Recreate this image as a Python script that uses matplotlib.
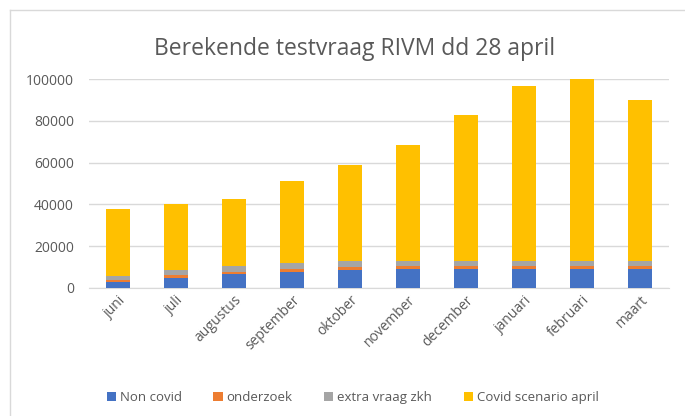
import numpy as np
import matplotlib
matplotlib.use('Agg')
import matplotlib.pyplot as plt
from matplotlib.lines import Line2D

plt.rcParams['font.family'] = ['Open Sans', 'DejaVu Sans']

months = ['juni', 'juli', 'augustus', 'september', 'oktober', 'november',
          'december', 'januari', 'februari', 'maart']
non_covid = [3000, 4800, 6700, 7800, 8500, 9100, 9100, 9100, 9100, 9100]
onderzoek = [800, 1200, 1000, 1300, 1400, 1600, 1600, 1600, 1600, 1600]
extra_zkh = [2000, 2400, 3000, 2900, 2900, 2400, 2400, 2400, 2400, 2400]
totals = [38000, 40000, 42500, 51000, 59000, 68500, 83000, 96500, 100000, 90000]
covid_april = [t - a - b - c for t, a, b, c in zip(totals, non_covid, onderzoek, extra_zkh)]

series = [('Non covid', non_covid, '#4472C4'),
          ('onderzoek', onderzoek, '#ED7D31'),
          ('extra vraag zkh', extra_zkh, '#A5A5A5'),
          ('Covid scenario april', covid_april, '#FFC000')]

fig = plt.figure(figsize=(6.85, 4.16), dpi=100)
ax = fig.add_axes([0.130, 0.308, 0.847, 0.502])

x = np.arange(len(months))
bottom = np.zeros(len(months))
for name, vals, col in series:
    ax.bar(x, vals, 0.41, bottom=bottom, color=col, label=name, zorder=3)
    bottom += np.array(vals)

ax.set_xlim(-0.5, len(months) - 0.5)
ax.set_ylim(0, 100000)
ax.set_yticks(range(0, 100001, 20000))
ax.yaxis.grid(True, color='#D9D9D9', linewidth=1, zorder=0)
for s in ['top', 'right', 'left']:
    ax.spines[s].set_visible(False)
ax.spines['bottom'].set_color('#D9D9D9')
ax.tick_params(axis='both', length=0, colors='#595959', labelsize=10)
ax.tick_params(axis='y', pad=11)
ax.set_xticks(x)
ax.set_xticklabels(months, rotation=45, ha='right', rotation_mode='anchor')

fig.text(0.517, 0.883, 'Berekende testvraag RIVM dd 28 april',
         ha='center', va='center', fontsize=16.5, color='#595959')

handles, labels = ax.get_legend_handles_labels()
fig.legend(handles, labels, loc='center', bbox_to_anchor=(0.515, 0.045), ncol=4,
           frameon=False, fontsize=9.5, handlelength=0.7, handleheight=0.7,
           handletextpad=0.3, columnspacing=2.4, labelcolor='#595959')

# chart area border
fig.add_artist(Line2D([10 / 685, 10 / 685], [0, 1 - 10 / 416], color='#D9D9D9', lw=1))
fig.add_artist(Line2D([10 / 685, 1], [1 - 10 / 416, 1 - 10 / 416], color='#D9D9D9', lw=1))

fig.savefig('out.png', dpi=100)
